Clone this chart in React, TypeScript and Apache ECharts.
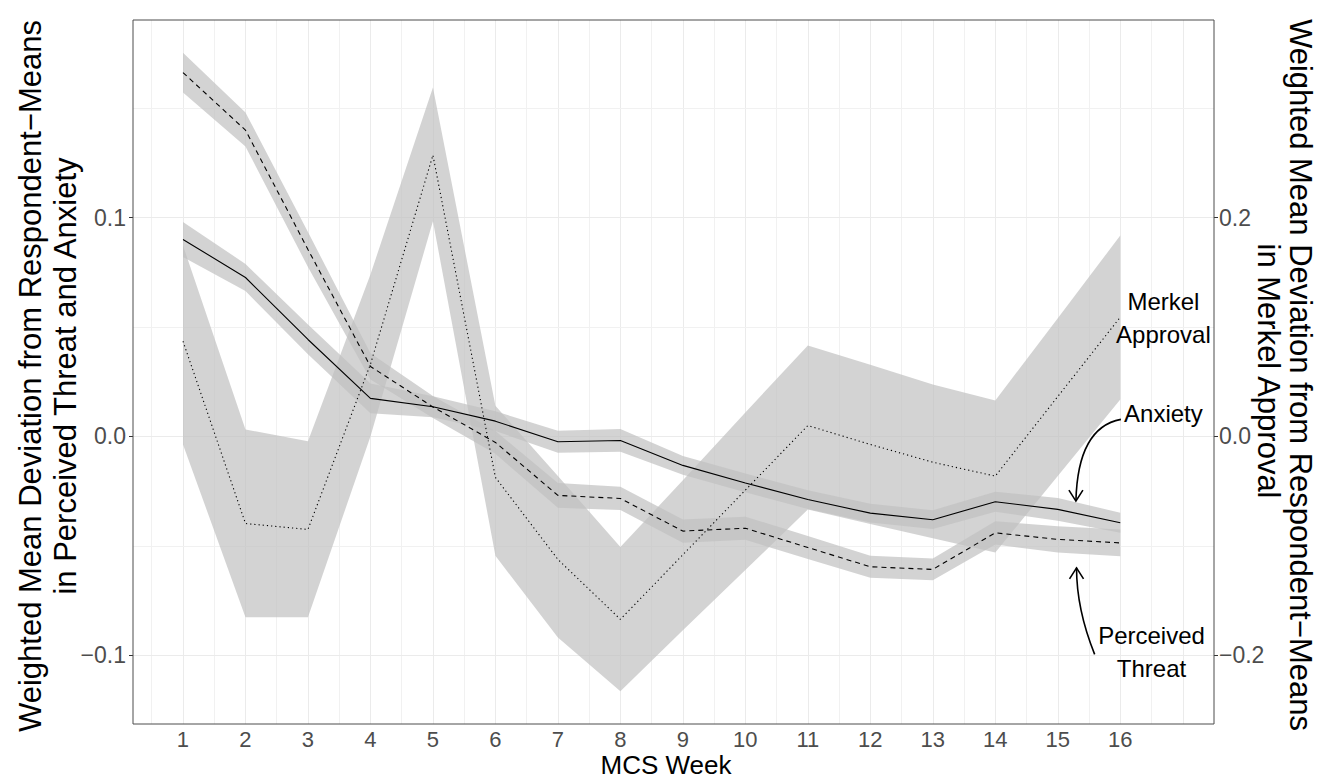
import React, { useEffect, useRef } from "react";
import * as echarts from "echarts";

// ---------- data ----------
const weeks = [1, 2, 3, 4, 5, 6, 7, 8, 9, 10, 11, 12, 13, 14, 15, 16];

// Anxiety (left axis), solid line
const anxiety = [0.09, 0.0726, 0.0443, 0.0174, 0.0136, 0.007, -0.0024, -0.0018, -0.0132, -0.0212, -0.0288, -0.035, -0.038, -0.0298, -0.0333, -0.0394];
const anxietyUpper = [0.098, 0.0788, 0.0511, 0.0242, 0.0184, 0.0115, 0.0026, 0.0034, -0.0089, -0.0169, -0.0245, -0.0307, -0.0337, -0.0252, -0.0281, -0.0348];
const anxietyLower = [0.082, 0.0664, 0.0375, 0.0106, 0.0088, 0.0025, -0.0074, -0.007, -0.0175, -0.0255, -0.0331, -0.0393, -0.0423, -0.0344, -0.0385, -0.044];

// Perceived Threat (left axis), dashed line
const threat = [0.1662, 0.1399, 0.0854, 0.032, 0.0135, -0.0027, -0.0269, -0.0283, -0.0432, -0.0419, -0.0507, -0.0595, -0.0607, -0.044, -0.047, -0.0486];
const threatUpper = [0.1753, 0.148, 0.0934, 0.038, 0.0185, 0.0025, -0.0212, -0.023, -0.0379, -0.0366, -0.0454, -0.0545, -0.0557, -0.0387, -0.041, -0.0425];
const threatLower = [0.1571, 0.1324, 0.0774, 0.026, 0.0085, -0.0079, -0.0326, -0.0336, -0.0485, -0.0472, -0.056, -0.0645, -0.0657, -0.0493, -0.053, -0.0547];

// Merkel Approval (right axis), dotted line
const merkel = [0.087, -0.0795, -0.0849, 0.066, 0.257, -0.0374, -0.1123, -0.167, -0.108, -0.049, 0.01, -0.0073, -0.0235, -0.0362, 0.0365, 0.109];
const merkelUpper = [0.1745, 0.0064, -0.0043, 0.148, 0.3187, 0.028, -0.036, -0.101, -0.04, 0.022, 0.083, 0.0655, 0.0475, 0.0329, 0.108, 0.1836];
const merkelLower = [-0.0073, -0.165, -0.165, 0.0, 0.1966, -0.109, -0.1836, -0.2326, -0.177, -0.122, -0.0667, -0.08, -0.093, -0.106, -0.036, 0.0338];

// ticks and grid lines
const xTicks = [1, 2, 3, 4, 5, 6, 7, 8, 9, 10, 11, 12, 13, 14, 15, 16];
const leftTicks = [-0.1, 0, 0.1];
const rightTicks = [-0.2, 0, 0.2];
const xGridMajor = [1, 2, 3, 4, 5, 6, 7, 8, 9, 10, 11, 12, 13, 14, 15, 16, 17];
const xGridMinor = [0.5, 1.5, 2.5, 3.5, 4.5, 5.5, 6.5, 7.5, 8.5, 9.5, 10.5, 11.5, 12.5, 13.5, 14.5, 15.5, 16.5];
const yGridMajor = [-0.1, 0, 0.1];
const yGridMinor = [-0.05, 0.05, 0.15];

// annotations (data coordinates, left axis)
const labelMerkel = { text: "Merkel\nApproval", at: [16.69, 0.0543] };
const labelAnxiety = { text: "Anxiety", at: [16.69, 0.0103] };
const labelThreat = { text: "Perceived\nThreat", at: [16.5, -0.0984] };
const arrowAnxiety = { start: [16.01, 0.0078], ctrl: [15.32, 0.0041], end: [15.29, -0.0295], dir: 1 };
const arrowThreat = { start: [15.59, -0.0995], ctrl: [15.3, -0.079], end: [15.3, -0.06], dir: -1 };

const FONT = "'Liberation Sans', Arial, Helvetica, sans-serif";
const BAND = "rgba(192,192,192,0.7)";

function fmt(v: number) {
  return v.toFixed(1).replace("-", "\u2212");
}

function band(upper: number[], lower: number[], yAxisIndex: number) {
  return {
    type: "custom",
    yAxisIndex,
    z: 2,
    silent: true,
    clip: true,
    encode: { x: 0, y: 1 },
    data: [[weeks[0], upper[0]]],
    renderItem: (params: any, api: any) => {
      if (params.dataIndex !== 0) return null;
      const pts: number[][] = [];
      for (let i = 0; i < weeks.length; i++) pts.push(api.coord([weeks[i], upper[i]]));
      for (let i = weeks.length - 1; i >= 0; i--) pts.push(api.coord([weeks[i], lower[i]]));
      return { type: "polygon", shape: { points: pts }, style: { fill: BAND } };
    },
  };
}

function line(vals: number[], yAxisIndex: number, dash: any) {
  return {
    type: "line",
    yAxisIndex,
    z: 3,
    silent: true,
    symbol: "none",
    data: weeks.map((w, i) => [w, vals[i]]),
    lineStyle: { color: "#000", width: 1.1, type: dash },
  };
}

export default function App() {
  const ref = useRef<HTMLDivElement>(null);
  useEffect(() => {
    document.body.style.margin = "0";
    document.body.style.overflow = "hidden";
    const chart = echarts.init(ref.current!, null, { renderer: "svg" });

    const gridLines = [
      ...xGridMajor.map((v) => ({ xAxis: v, lineStyle: { color: "#ebebeb", width: 1, type: "solid" } })),
      ...xGridMinor.map((v) => ({ xAxis: v, lineStyle: { color: "#f1f1f1", width: 1, type: "solid" } })),
      ...yGridMajor.map((v) => ({ yAxis: v, lineStyle: { color: "#ebebeb", width: 1, type: "solid" } })),
      ...yGridMinor.map((v) => ({ yAxis: v, lineStyle: { color: "#f1f1f1", width: 1, type: "solid" } })),
    ];

    const tickStyle = { show: true, length: 4, lineStyle: { color: "#333", width: 1 } };
    const option: any = {
      animation: false,
      backgroundColor: "#fff",
      grid: { left: 133, right: 118, top: 20, bottom: 57, outerBoundsMode: "none", containLabel: false },
      xAxis: {
        type: "value",
        min: 0.2,
        max: 17.5,
        axisLine: { show: false },
        splitLine: { show: false },
        axisTick: { ...tickStyle, customValues: xTicks },
        axisLabel: { customValues: xTicks, formatter: (v: number) => String(v), fontSize: 22, lineHeight: 22, color: "#4d4d4d", margin: 4, fontFamily: FONT },
      },
      yAxis: [
        {
          type: "value",
          position: "left",
          min: -0.1313,
          max: 0.1902,
          axisLine: { show: false },
          splitLine: { show: false },
          axisTick: { ...tickStyle, customValues: leftTicks },
          axisLabel: { customValues: leftTicks, formatter: fmt, fontSize: 23, color: "#4d4d4d", margin: 7, fontFamily: FONT },
        },
        {
          type: "value",
          position: "right",
          min: -0.2626,
          max: 0.3804,
          axisLine: { show: false },
          splitLine: { show: false },
          axisTick: { ...tickStyle, customValues: rightTicks },
          axisLabel: { customValues: rightTicks, formatter: fmt, fontSize: 23, color: "#4d4d4d", margin: 5, fontFamily: FONT },
        },
      ],
      series: [
        {
          type: "line",
          z: 0,
          silent: true,
          symbol: "none",
          data: [[weeks[0], anxiety[0]]],
          lineStyle: { opacity: 0 },
          markLine: { silent: true, z: 1, symbol: ["none", "none"], label: { show: false }, animation: false, lineStyle: { type: "solid" }, data: gridLines },
        },
        band(merkelUpper, merkelLower, 1),
        band(threatUpper, threatLower, 0),
        band(anxietyUpper, anxietyLower, 0),
        line(merkel, 1, [1.2, 3]),
        line(threat, 0, [5, 4]),
        line(anxiety, 0, "solid"),
      ],
    };
    chart.setOption(option);

    const P = (p: number[]) => chart.convertToPixel({ xAxisIndex: 0, yAxisIndex: 0 }, p) as number[];
    const textEl = (lbl: { text: string; at: number[] }) => {
      const [x, y] = P(lbl.at);
      return {
        type: "text",
        x,
        y,
        z: 10,
        style: { text: lbl.text, fontSize: 24, fontFamily: FONT, fill: "#000", align: "center", verticalAlign: "middle", lineHeight: 33 },
      };
    };
    const arrowEls = (a: { start: number[]; ctrl: number[]; end: number[]; dir: number }) => {
      const s = P(a.start);
      const c = P(a.ctrl);
      const e = P(a.end);
      return [
        {
          type: "bezierCurve",
          z: 10,
          shape: { x1: s[0], y1: s[1], x2: e[0], y2: e[1], cpx1: c[0], cpy1: c[1] },
          style: { stroke: "#000", lineWidth: 1.6, fill: "none" },
        },
        {
          type: "polyline",
          z: 10,
          shape: { points: [[e[0] - 7, e[1] - 11 * a.dir], [e[0], e[1]], [e[0] + 7, e[1] - 11 * a.dir]] },
          style: { stroke: "#000", lineWidth: 1.6, fill: "none" },
        },
      ];
    };
    const titleEl = (text: string, x: number, y: number, rotation: number, size: number) => ({
      type: "text",
      x,
      y,
      rotation,
      z: 10,
      style: { text, fontSize: size, lineHeight: size, fontFamily: FONT, fill: "#000", align: "center", verticalAlign: "middle" },
    });

    chart.setOption({
      graphic: [
        {
          type: "rect",
          z: 20,
          silent: true,
          shape: { x: 133, y: 20, width: 1081, height: 704 },
          style: { fill: "none", stroke: "#4d4d4d", lineWidth: 1 },
        },
        textEl(labelMerkel),
        textEl(labelAnxiety),
        textEl(labelThreat),
        ...arrowEls(arrowAnxiety),
        ...arrowEls(arrowThreat),
        titleEl("MCS Week", 666, 765, 0, 26),
        titleEl("Weighted Mean Deviation from Respondent\u2212Means", 30, 376, Math.PI / 2, 31),
        titleEl("in Perceived Threat and Anxiety", 65, 376, Math.PI / 2, 31),
        titleEl("Weighted Mean Deviation from Respondent\u2212Means", 1300, 375, -Math.PI / 2, 31),
        titleEl("in Merkel Approval", 1268, 371, -Math.PI / 2, 31),
      ],
    });

    return () => chart.dispose();
  }, []);
  return <div ref={ref} style={{ width: 1332, height: 781 }} />;
}
